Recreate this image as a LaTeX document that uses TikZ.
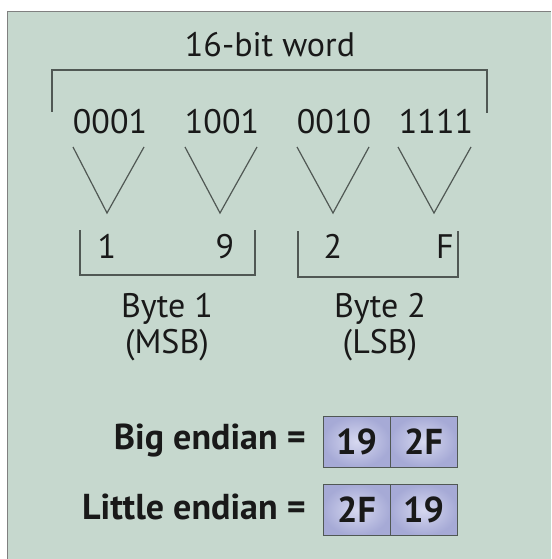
\documentclass[tikz,border=0pt]{standalone}
\usepackage{fontspec}
\setmainfont{PT Sans}
\definecolor{bg}{RGB}{198,216,206}
\definecolor{ln}{RGB}{80,88,84}
\definecolor{boxin}{RGB}{214,216,240}
\definecolor{boxout}{RGB}{166,170,214}
\begin{document}
\begin{tikzpicture}[x=1pt,y=-1pt,
  lbl/.style={anchor=base,inner sep=0pt,font=\fontsize{34}{36}\selectfont,text=black!90},
  blbl/.style={anchor=base east,inner sep=0pt,font=\fontsize{36}{38}\selectfont\bfseries,text=black!90},
  wire/.style={draw=ln,line width=1.2pt},
  cell/.style={draw=ln,line width=1pt,minimum width=67pt,minimum height=51pt,inner sep=0pt,
     inner color=boxin,outer color=boxout,font=\fontsize{36}{38}\selectfont\bfseries,text=black!90}]
\useasboundingbox (0,0) rectangle (551,559);
\fill[white] (0,0) rectangle (551,559);
\fill[bg] (7,12) rectangle (551,559);
\draw[gray,line width=1pt] (7,559) -- (7,12) -- (551,12);

% title and word bracket
\node[lbl] (word) at (270,57) {16-bit word};
\coordinate (bl) at (52,112);
\coordinate (br) at (487,113);
\draw[wire] (bl) -- (52,70) -- (487,70) -- (br);

% nibbles
\node[lbl] (n1) at (110,133) {0001};
\node[lbl] (n2) at (222,133) {1001};
\node[lbl] (n3) at (334,133) {0010};
\node[lbl] (n4) at (436,133) {1111};

% V shapes
\foreach \a/\b/\c in {73/107/144, 185/220/257, 297/333/369, 398/434/471}{
  \draw[wire] (\a,147) -- (\b,213) -- (\c,147);
}

% hex digits
\node[lbl] (h1) at (107,258) {1};
\node[lbl] (h2) at (225,258) {9};
\node[lbl] (h3) at (333,258) {2};
\node[lbl] (h4) at (445,258) {F};

% byte brackets
\draw[wire] (80,230) -- (80,275) -- (255,275) -- (255,230);
\draw[wire] (298,231) -- (298,277) -- (458,277) -- (458,231);

\node[lbl] (b1) at (167,317) {Byte 1};
\node[lbl] (m1) at (167,353) {(MSB)};
\node[lbl] (b2) at (380,317) {Byte 2};
\node[lbl] (m2) at (380,353) {(LSB)};

% endian rows
\node[blbl] (big) at (306,449) {Big endian =};
\node[blbl] (lit) at (306,519) {Little endian =};
\node[cell] (c11) at (356.5,441.5) {19};
\node[cell] (c12) at (423.5,441.5) {2F};
\node[cell] (c21) at (356.5,510) {2F};
\node[cell] (c22) at (423.5,510) {19};
\end{tikzpicture}
\end{document}
